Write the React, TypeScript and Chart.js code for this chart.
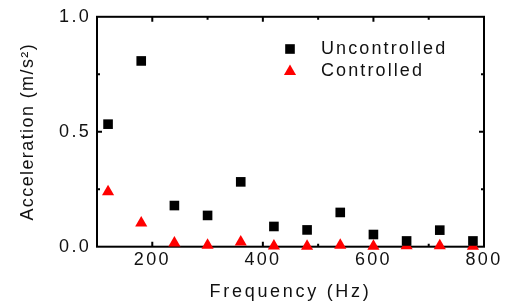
import React, { useEffect, useRef } from 'react';
import { Chart, registerables } from 'chart.js';

Chart.register(...registerables);

// ---- data ----
const frequencies = [120, 180, 240, 300, 360, 420, 480, 540, 600, 660, 720, 780];
const uncontrolled = [0.533, 0.808, 0.179, 0.136, 0.282, 0.088, 0.073, 0.149, 0.053, 0.025, 0.072, 0.025];
const controlled = [0.239, 0.103, 0.016, 0.006, 0.02, 0.003, 0.002, 0.006, 0.002, 0.004, 0.004, 0.002];
const seriesLabels = ['Uncontrolled', 'Controlled'];
const xTickLabels = [200, 400, 600, 800];
const xMajorTicks = [200, 400, 600];
const xMinorTicks = [300, 500, 700];
const yTickLabels = [0, 0.5, 1.0];
const yMajorTicks = [0.5];
const yMinorTicks = [0.25, 0.75];
const xTitle = 'Frequency (Hz)';
const yTitle = 'Acceleration (m/s\u00B2)';

const FONT = "'Liberation Sans', Arial, sans-serif";

function spacingFor(text: string): number {
  if (text === xTitle) return 2.7;
  if (text === yTitle) return 1.4;
  if (seriesLabels.includes(text)) return 2.1;
  return 2.3;
}

const framePlugin = {
  id: 'frameTicks',
  beforeDatasetsDraw(chart: any) {
    const { ctx, chartArea } = chart;
    const { left, right, top, bottom } = chartArea;
    const xs = chart.scales.x;
    const ys = chart.scales.y;
    ctx.save();
    ctx.strokeStyle = '#000';
    ctx.lineWidth = 2;
    ctx.strokeRect(left, top, right - left, bottom - top);
    const drawX = (vals: number[], len: number) => {
      vals.forEach((v) => {
        const px = xs.getPixelForValue(v);
        ctx.beginPath();
        ctx.moveTo(px, bottom);
        ctx.lineTo(px, bottom - len);
        ctx.moveTo(px, top);
        ctx.lineTo(px, top + len);
        ctx.stroke();
      });
    };
    const drawY = (vals: number[], len: number) => {
      vals.forEach((v) => {
        const py = ys.getPixelForValue(v);
        ctx.beginPath();
        ctx.moveTo(left, py);
        ctx.lineTo(left + len, py);
        ctx.moveTo(right, py);
        ctx.lineTo(right - len, py);
        ctx.stroke();
      });
    };
    drawX(xMajorTicks, 5);
    drawX(xMinorTicks, 3);
    drawY(yMajorTicks, 5);
    drawY(yMinorTicks, 3);
    ctx.restore();
  },
};

const legendPlugin = {
  id: 'insideLegend',
  afterDatasetsDraw(chart: any) {
    const { ctx, chartArea } = chart;
    ctx.save();
    chart.data.datasets.forEach((ds: any, i: number) => {
      const mx = chartArea.left + 193;
      const my = chartArea.top + 32.2 + i * 22.5;
      ctx.fillStyle = ds.pointBackgroundColor;
      const r = ds.pointRadius;
      ctx.beginPath();
      if (ds.pointStyle === 'rect') {
        const h = r * Math.SQRT1_2;
        ctx.rect(mx - h, my - h, 2 * h, 2 * h);
      } else {
        ctx.moveTo(mx, my - r);
        ctx.lineTo(mx + r * 0.866, my + r / 2);
        ctx.lineTo(mx - r * 0.866, my + r / 2);
        ctx.closePath();
      }
      ctx.fill();
      ctx.fillStyle = '#111';
      ctx.font = `18px ${FONT}`;
      ctx.textAlign = 'left';
      ctx.textBaseline = 'middle';
      ctx.fillText(ds.label, chartArea.left + 224, chartArea.top + 32.2 + i * 22.5);
    });
    ctx.restore();
  },
};

export default function App() {
  const ref = useRef<HTMLCanvasElement | null>(null);
  useEffect(() => {
    const canvas = ref.current!;
    const ctx: any = canvas.getContext('2d');
    const origFill = ctx.fillText;
    ctx.fillText = function (text: any, x: number, y: number, maxWidth?: number) {
      const prev = this.letterSpacing;
      this.letterSpacing = spacingFor(String(text)) + 'px';
      if (maxWidth === undefined) origFill.call(this, text, x, y);
      else origFill.call(this, text, x, y, maxWidth);
      this.letterSpacing = prev;
    };
    const chart = new Chart(canvas, {
      type: 'scatter',
      data: {
        datasets: [
          {
            label: seriesLabels[0],
            data: frequencies.map((f, i) => ({ x: f, y: uncontrolled[i] })),
            pointStyle: 'rect',
            pointRadius: 6.8,
            pointBackgroundColor: '#000000',
            pointBorderWidth: 0,
            borderWidth: 0,
            clip: false,
          } as any,
          {
            label: seriesLabels[1],
            data: frequencies.map((f, i) => ({ x: f, y: controlled[i] })),
            pointStyle: 'triangle',
            pointRadius: 7,
            pointBackgroundColor: '#ff0000',
            pointBorderWidth: 0,
            borderWidth: 0,
            clip: false,
          } as any,
        ],
      },
      options: {
        animation: false,
        responsive: false,
        devicePixelRatio: 1,
        layout: { padding: { top: 14, right: 29, left: 0, bottom: 0 } },
        plugins: { legend: { display: false }, tooltip: { enabled: false } },
        scales: {
          x: {
            type: 'linear',
            min: 100,
            max: 800,
            afterBuildTicks: (s: any) => {
              s.ticks = xTickLabels.map((v) => ({ value: v }));
            },
            afterFit: (s: any) => {
              s.height = 59.3;
            },
            grid: { display: false, drawTicks: false },
            border: { display: false },
            ticks: {
              padding: 3,
              color: '#111',
              font: { family: FONT, size: 18 },
              maxRotation: 0,
              autoSkip: false,
              callback: (v: any) => String(v),
            },
            title: {
              display: true,
              text: xTitle,
              color: '#111',
              font: { family: FONT, size: 18 },
              padding: { top: 0, bottom: 3.2 },
            },
          },
          y: {
            type: 'linear',
            min: 0,
            max: 1,
            afterBuildTicks: (s: any) => {
              s.ticks = yTickLabels.map((v) => ({ value: v }));
            },
            afterFit: (s: any) => {
              s.width = 97;
            },
            grid: { display: false, drawTicks: false },
            border: { display: false },
            ticks: {
              padding: 6,
              color: '#111',
              font: { family: FONT, size: 18 },
              autoSkip: false,
              callback: (v: any) => Number(v).toFixed(1),
            },
            title: {
              display: true,
              text: yTitle,
              color: '#111',
              font: { family: FONT, size: 18 },
              padding: { top: 17.2, bottom: 0 },
            },
          },
        },
      },
      plugins: [framePlugin, legendPlugin],
    });
    return () => {
      chart.destroy();
      ctx.fillText = origFill;
    };
  }, []);
  return (
    <div style={{ position: 'fixed', left: 0, top: 0, width: 513, height: 306, background: '#fff' }}>
      <canvas ref={ref} width={513} height={306} style={{ display: 'block', width: 513, height: 306 }} />
    </div>
  );
}
